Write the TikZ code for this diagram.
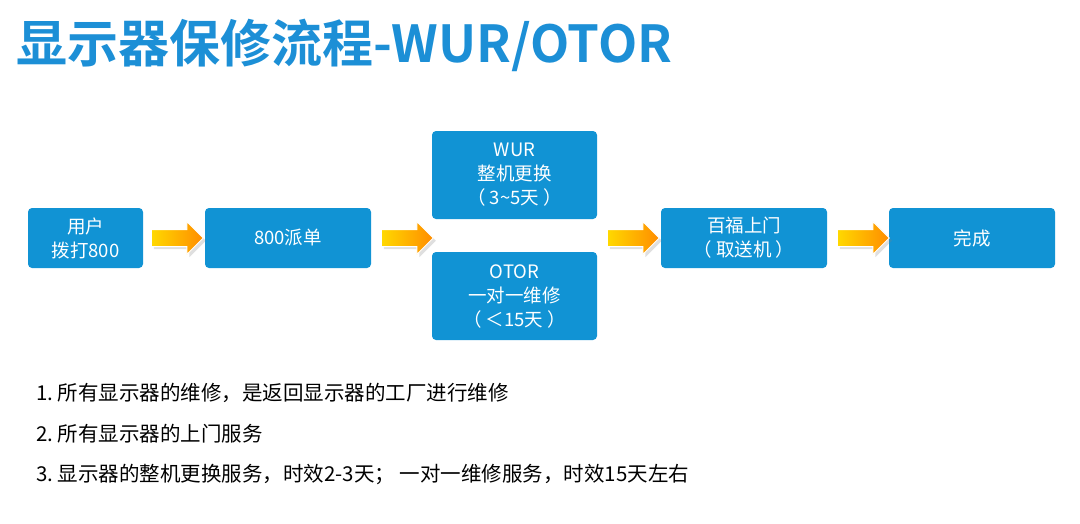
\documentclass[tikz,border=0pt]{standalone}
\usepackage{fontspec}
\setmainfont{Noto Sans CJK SC}
\newfontfamily\boldcjk{Noto Sans CJK SC Bold}
\usetikzlibrary{shapes.arrows,shadows}
\definecolor{boxblue}{HTML}{1193D4}
\definecolor{titleblue}{HTML}{1C8FD6}
\begin{document}
\begin{tikzpicture}[x=1pt,y=-1pt,
  box/.style={fill=boxblue,rounded corners=4pt,text=white,align=center,font=\fontsize{18.5}{24}\selectfont,inner sep=0pt},
  barrow/.style={single arrow,draw=white,line width=1pt,left color=yellow!70!orange,right color=orange!90!yellow,minimum height=52pt,single arrow head extend=8pt,inner sep=0pt,drop shadow={opacity=0.25}},
  item/.style={anchor=west,font=\fontsize{20.5}{24}\selectfont,inner sep=0pt}]
\useasboundingbox (0,0) rectangle (1080,523);
\node[anchor=west,text=titleblue,font=\boldcjk\fontsize{51}{58}\selectfont,inner sep=0pt] (title) at (16,45) {显示器保修流程-WUR/OTOR};
\node[box,minimum width=115pt,minimum height=60pt] (user) at (85.5,238) {用户\\拨打800};
\node[box,minimum width=166pt,minimum height=60pt] (disp) at (288,238) {800派单};
\node[box,minimum width=165pt,minimum height=88pt] (wur) at (514.5,175) {WUR\\整机更换\\（ 3\textasciitilde5天 ）};
\node[box,minimum width=165pt,minimum height=88pt] (otor) at (514.5,296) {OTOR\\一对一维修\\（ ＜15天 ）};
\node[box,minimum width=166pt,minimum height=60pt] (bf) at (744,238) {百福上门\\（ 取送机 ）};
\node[box,minimum width=166pt,minimum height=60pt] (done) at (972,238) {完成};
\node[barrow] (a1) at (173,238) {\rule{0pt}{16pt}};
\node[barrow] (a2) at (403,238) {\rule{0pt}{16pt}};
\node[barrow] (a3) at (629,238) {\rule{0pt}{16pt}};
\node[barrow] (a4) at (859,238) {\rule{0pt}{16pt}};
\node[item] (l1) at (36,393) {1.\ 所有显示器的维修，是返回显示器的工厂进行维修};
\node[item] (l2) at (36,434) {2.\ 所有显示器的上门服务};
\node[item] (l3) at (36,474) {3.\ 显示器的整机更换服务，时效2-3天； 一对一维修服务，时效15天左右};
\end{tikzpicture}
\end{document}
